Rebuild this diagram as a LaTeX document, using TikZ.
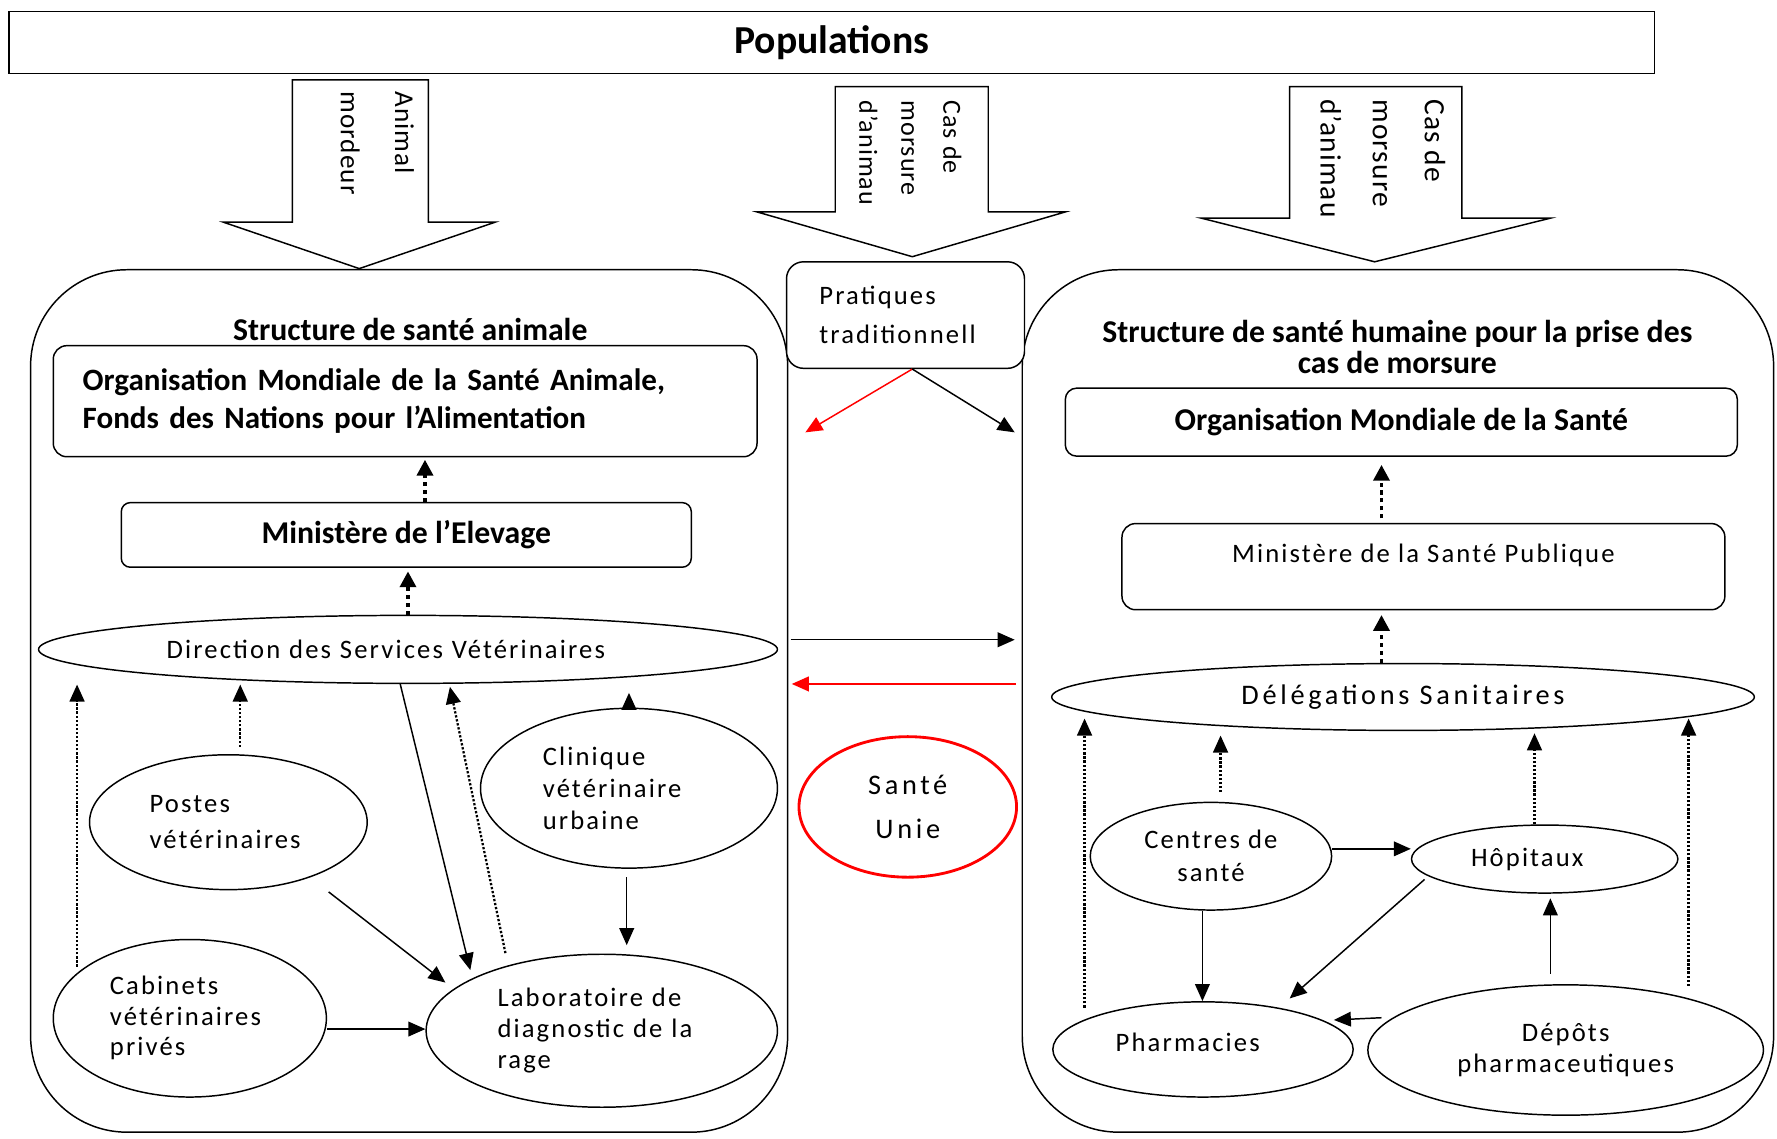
\documentclass[tikz,border=0pt]{standalone}
\usepackage{fontspec}
\usepackage{graphicx}
\setmainfont{Carlito}
\newfontfamily\rf[LetterSpace=8]{Carlito}
\newfontfamily\rfw[LetterSpace=13]{Carlito}
\newfontfamily\rfa[LetterSpace=4]{Carlito}
\usetikzlibrary{shapes.geometric,arrows.meta}
\begin{document}
\begin{tikzpicture}[x=1pt,y=-1pt,line width=1.3pt,
  rbox/.style={draw,rectangle,inner sep=0pt},
  cont/.style={draw,rectangle,rounded corners=85pt,inner sep=0pt},
  ell/.style={draw,ellipse,inner sep=0pt,font=\rf\fontsize{23.5}{28}\selectfont},
  bfont/.style={font=\bfseries\fontsize{28}{34}\selectfont},
  sarr/.style={draw,-{Triangle[length=15pt,width=13pt]}},
  rarr/.style={draw=red,-{Triangle[length=15pt,width=13pt]}},
  darr/.style={draw,line width=2pt,dash pattern=on 2pt off 1.6pt,-{Triangle[length=15pt,width=13pt]}},
  tdarr/.style={draw,line width=3.4pt,dash pattern=on 3.6pt off 3.4pt,-{Triangle[length=14pt,width=14pt]}},
  bigarrow/.style={draw,line width=1.3pt,line join=miter},
  vtext/.style={rotate=-90,anchor=north west,align=left,inner sep=0pt}
]
\useasboundingbox (0,0) rectangle (1568,1005);

% top bar
\node[rbox,minimum width=1452pt,minimum height=55pt,font=\bfseries\fontsize{35}{40}\selectfont] (pop) at (734,37.5) {Populations};

% block arrows
\draw[bigarrow] (258,70.5) -- (378,70.5) -- (378,196) -- (437,196) -- (317,237) -- (197,196) -- (258,196) -- cycle;
\draw[bigarrow] (737,76.5) -- (872,76.5) -- (872,187) -- (940,187) -- (805,226.5) -- (668,187) -- (737,187) -- cycle;
\draw[bigarrow] (1138,76.5) -- (1290,76.5) -- (1290,192.5) -- (1368,192.5) -- (1213,231) -- (1060,192.5) -- (1138,192.5) -- cycle;
\node[vtext,font=\rfa\fontsize{24}{48}\selectfont] (ta) at (366,80) {Animal\\mordeur};
\node[vtext,font=\rfa\fontsize{23}{37}\selectfont] (tb) at (849,88) {Cas de\\morsure\\d’animau};
\node[vtext,font=\rfa\fontsize{26}{46}\selectfont] (tc) at (1276,87) {Cas de\\morsure\\d’animau};

% containers
\node[cont,minimum width=668pt,minimum height=761pt] (lc) at (361,618.5) {};
\node[cont,minimum width=663pt,minimum height=761pt] (rc) at (1233.5,618.5) {};

% middle
\node[rbox,fill=white,rounded corners=15pt,minimum width=210pt,minimum height=94pt,text width=152pt,align=left,font=\rf\fontsize{23.5}{34}\selectfont] (prat) at (799,278) {Pratiques\\traditionnell};
\node[ell,draw=red,line width=2.5pt,minimum width=192pt,minimum height=124pt,align=center,font=\rfw\fontsize{25}{39}\selectfont] (su) at (801,712) {Santé\\Unie};

% left structure
\node[inner sep=0pt,font=\bfseries\fontsize{28}{28}\selectfont] (lt) at (362,291) {Structure de santé animale};
\node[rbox,rounded corners=12pt,minimum width=621pt,minimum height=98pt,text width=569pt,align=left,font=\bfseries\fontsize{27.4}{34}\selectfont] (omsa) at (357.5,354) {Organisation Mondiale de la Santé Animale,\\Fonds des Nations pour l’Alimentation};
\node[rbox,rounded corners=8pt,minimum width=503pt,minimum height=57pt,bfont] (mel) at (358.5,472) {Ministère de l’Elevage};
\node[ell,minimum width=652pt,minimum height=60pt,text width=426pt,align=left] (dsv) at (360,573) {Direction des Services Vétérinaires};
\node[ell,minimum width=245pt,minimum height=119pt,text width=139pt,align=left,font=\rf\fontsize{23.5}{32}\selectfont] (post) at (201.5,725.5) {Postes\\vétérinaires};
\node[ell,minimum width=262pt,minimum height=141pt,text width=152pt,align=left,font=\rf\fontsize{23.5}{28.5}\selectfont] (clin) at (555,695.5) {Clinique\\vétérinaire\\urbaine};
\node[ell,minimum width=241pt,minimum height=139pt,text width=141pt,align=left,font=\rf\fontsize{23.5}{27}\selectfont] (cab) at (167.5,898.5) {Cabinets\\vétérinaires\\privés};
\node[ell,minimum width=310pt,minimum height=135pt,text width=184pt,align=left,font=\rf\fontsize{23.5}{27.5}\selectfont] (labo) at (531,909.5) {Laboratoire de\\diagnostic de la\\rage};

% right structure
\node[inner sep=0pt,align=center,font=\bfseries\fontsize{28}{27}\selectfont] (rt) at (1233,306) {Structure de santé humaine pour la prise des\\cas de morsure};
\node[rbox,rounded corners=10pt,minimum width=593pt,minimum height=60pt,bfont] (oms) at (1236.5,372.5) {Organisation Mondiale de la Santé};
\node[rbox,rounded corners=12pt,minimum width=532pt,minimum height=76pt,font=\rf\fontsize{23.5}{28}\selectfont] (msp) at (1256,500) {\raisebox{24pt}{Ministère de la Santé Publique}};
\node[ell,minimum width=620pt,minimum height=59pt,font=\rfw\fontsize{25}{30}\selectfont] (del) at (1238,615) {Délégations Sanitaires};
\node[ell,minimum width=213pt,minimum height=95pt,align=center,font=\rf\fontsize{23.5}{29}\selectfont] (cs) at (1068.5,755.5) {Centres de\\santé};
\node[ell,minimum width=235pt,minimum height=60pt,text width=130pt,align=left] (hop) at (1363,758) {Hôpitaux};
\node[ell,minimum width=265pt,minimum height=84pt,text width=154pt,align=left] (pha) at (1061.5,926) {\raisebox{12pt}{Pharmacies}};
\node[ell,minimum width=349pt,minimum height=115pt,align=center,font=\rf\fontsize{23.5}{28}\selectfont] (dep) at (1381.5,926.5) {Dépôts\\pharmaceutiques};

% left connectors
\draw[tdarr,shorten >=2pt] ([xshift=16.5pt]mel.north) -- ([xshift=16.5pt]mel.north |- omsa.south);
\draw[tdarr,shorten >=3pt] (dsv.north) -- (dsv.north |- mel.south);
\draw[darr] ([shift={(-99.5,-45.5)}]cab.center) -- ([shift={(-292,31)}]dsv.center);
\draw[darr] ([shift={(10.5,-66.5)}]post.center) -- ([shift={(-148,31)}]dsv.center);
\draw[sarr] ([shift={(-7,30)}]dsv.center) -- ([shift={(-116,-53.5)}]labo.center);
\draw[darr] ([shift={(-85,-68.5)}]labo.center) -- ([shift={(37,33)}]dsv.center);
\draw[darr] (clin.north) -- ([yshift=13pt]clin.north);
\draw[sarr] ([shift={(88.5,61.5)}]post.center) -- ([shift={(-138,-42.5)}]labo.center);
\draw[sarr] ([shift={(-2,78.5)}]clin.center) -- ([shift={(22,-75.5)}]labo.center);
\draw[sarr] ([yshift=-9.5pt]cab.east) -- ([yshift=-9.5pt]cab.east -| labo.west);

% middle connectors
\draw[rarr] ([xshift=6pt]prat.south) -- ([shift={(15,-237)}]lc.east);
\draw[sarr] ([xshift=6pt]prat.south) -- ([shift={(-6,-237)}]rc.west);
\draw[sarr] ([shift={(2,-54)}]lc.east) -- ([shift={(-6,-54)}]rc.west);
\draw[rarr] ([shift={(-5,-15)}]rc.west) -- ([shift={(3,-15)}]lc.east);

% right connectors
\draw[tdarr,shorten <=4pt,shorten >=7pt] ([xshift=-37pt]msp.north) -- ([xshift=-37pt]msp.north |- oms.south);
\draw[tdarr,shorten >=4pt] ([xshift=-19pt]del.north) -- ([xshift=-19pt]del.north |- msp.south);
\draw[darr] ([shift={(-104.5,-37)}]pha.center) -- ([shift={(-281,19)}]del.center);
\draw[darr] ([shift={(8.5,-56.5)}]cs.center) -- ([shift={(-161,34)}]del.center);
\draw[darr] ([xshift=-9pt]hop.north) -- ([shift={(116,32)}]del.center);
\draw[darr] ([shift={(108.5,-56.5)}]dep.center) -- ([shift={(252,19)}]del.center);
\draw[sarr] ([yshift=6.5pt]cs.east) -- ([yshift=6.5pt]cs.east -| hop.west);
\draw[sarr] ([xshift=-7.5pt]cs.south) -- ([xshift=-7.5pt]cs.south |- pha.north);
\draw[sarr] ([shift={(-106,18)}]hop.center) -- ([shift={(76.5,-45)}]pha.center);
\draw[sarr,shorten <=9pt,shorten >=4pt] ([xshift=-13.5pt]dep.north) -- ([xshift=-13.5pt]dep.north |- hop.south);
\draw[sarr] ([shift={(-162.5,-28.5)}]dep.center) -- ([shift={(115.5,-26)}]pha.center);
\end{tikzpicture}
\end{document}
